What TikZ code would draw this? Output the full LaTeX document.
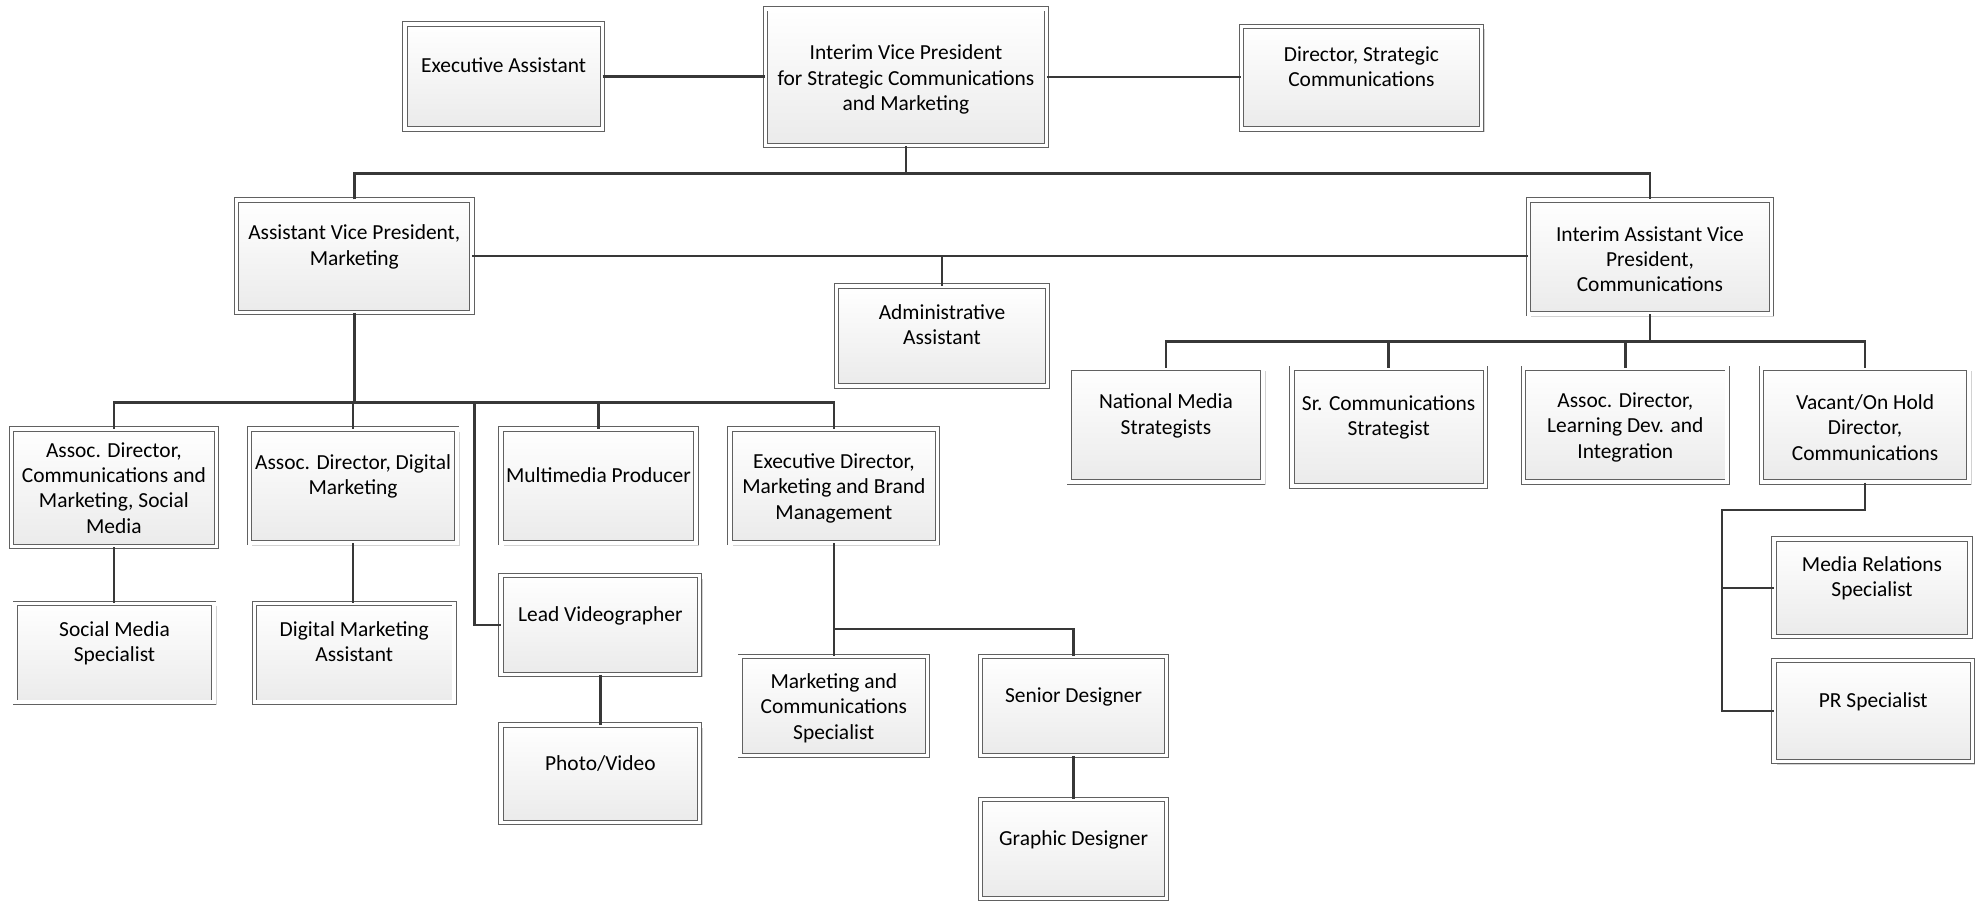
\documentclass[tikz,border=0pt]{standalone}
\usepackage{fontspec}
\setmainfont{Carlito}
\usetikzlibrary{shadows}
\newcommand\pad{\rule{0pt}{14.5pt}}
\newcommand\padlow{\rule{0pt}{11pt}}

\begin{document}
\begin{tikzpicture}[x=0.0253cm,y=-0.0253cm,
  every node/.style={font=\fontsize{12.2}{14.4}\selectfont},
  post/.style={draw=black!62,line width=0.5pt,double=white,double distance=2pt,
    top color=white,bottom color=black!8,align=center,inner sep=2pt,
    drop shadow={shadow xshift=1.6pt,shadow yshift=-1.6pt,fill=black!35,opacity=0.5}},
  dims/.style 2 args={minimum width=(#1-4)*0.0253cm,minimum height=(#2-4)*0.0253cm},
  link/.style={draw=black!78,line width=1.4pt}]
  \useasboundingbox (0,0) rectangle (1568,714.5);

  \node[post,dims={160}{87}] (ea) at (398,60.5) {\pad Executive Assistant\\ \strut};
  \node[post,dims={226}{112}] (vp) at (716,61) {\padlow Interim Vice President\\for Strategic Communications\\and Marketing};
  \node[post,dims={194}{85}] (dsc) at (1076,61.5) {\pad Director, Strategic\\Communications\\ \strut};

  \node[post,dims={190}{93}] (avp) at (280,202.5) {\pad Assistant Vice President,\\Marketing\\ \strut};
  \node[post,dims={196}{94}] (iavp) at (1304,203) {\padlow Interim Assistant Vice\\President,\\Communications};
  \node[post,dims={171}{83}] (aa) at (744.5,265.5) {\pad Administrative\\Assistant\\ \strut};

  \node[post,dims={166}{97}] (adcm) at (90,385.5) {Assoc. Director,\\Communications and\\Marketing, Social\\Media};
  \node[post,dims={168}{94}] (addm) at (279,384) {\pad Assoc. Director, Digital\\Marketing\\ \strut};
  \node[post,dims={158}{94}] (mp) at (473,384) {\pad Multimedia Producer\\ \strut};
  \node[post,dims={168}{94}] (edm) at (659,384) {\padlow Executive Director,\\Marketing and Brand\\Management};

  \node[post,dims={161}{82}] (sms) at (90.5,516) {\pad Social Media\\Specialist\\ \strut};
  \node[post,dims={162}{82}] (dma) at (280,516) {\pad Digital Marketing\\Assistant\\ \strut};
  \node[post,dims={161}{82}] (lv) at (474.5,494) {\pad Lead Videographer\\ \strut};
  \node[post,dims={161}{81}] (pv) at (474.5,611.5) {\pad Photo/Video\\ \strut};
  \node[post,dims={152}{82}] (mcs) at (659,558) {\padlow Marketing and\\Communications\\Specialist};
  \node[post,dims={151}{82}] (sd) at (848.5,558) {\pad Senior Designer\\ \strut};
  \node[post,dims={151}{82}] (gd) at (848.5,671) {\pad Graphic Designer\\ \strut};

  \node[post,dims={157}{94}] (nms) at (921.5,336) {\pad National Media\\Strategists\\ \strut};
  \node[post,dims={157}{97}] (scs) at (1097.5,337.5) {\pad Sr. Communications\\Strategist\\ \strut};
  \node[post,dims={165}{94}] (adl) at (1284.5,336) {\padlow Assoc. Director,\\Learning Dev. and\\Integration};
  \node[post,dims={168}{94}] (vac) at (1474,336) {\padlow Vacant/On Hold\\Director,\\Communications};
  \node[post,dims={159}{81}] (mrs) at (1479.5,464.5) {\pad Media Relations\\Specialist\\ \strut};
  \node[post,dims={161}{84}] (prs) at (1480.5,562) {\pad PR Specialist\\ \strut};

  \coordinate (topbus) at (716,137);
  \coordinate (mbus) at (280,318);
  \coordinate (tap) at (375,318);
  \coordinate (edbus) at (659,497);
  \coordinate (rbus) at (1304,270);
  \coordinate (vtap) at (1361,403);

  \draw[link](ea.east)--(ea.east-|vp.west);
  \draw[link](vp.east)--(vp.east-|dsc.west);
  \draw[link](vp.south)--(topbus);
  \draw[link](avp.north)|-(topbus)-|(iavp.north);
  \draw[link](avp.east)--(avp.east-|iavp.west);
  \draw[link](aa.north)--(aa.north|-avp.east);

  \draw[link](avp.south)--(mbus);
  \draw[link](adcm.north)|-(mbus)-|(edm.north);
  \draw[link](addm.north)--(addm.north|-mbus);
  \draw[link](mp.north)--(mp.north|-mbus);
  \draw[link](tap)|-(lv.west);
  \draw[link](adcm.south)--(adcm.south|-sms.north);
  \draw[link](addm.south)--(addm.south|-dma.north);
  \draw[link](lv.south)--(lv.south|-pv.north);
  \draw[link](edm.south)--(mcs.north);
  \draw[link](edbus)-|(sd.north);
  \draw[link](sd.south)--(gd.north);

  \draw[link](iavp.south)--(rbus);
  \draw[link](nms.north)|-(rbus)-|(vac.north);
  \draw[link](scs.north)--(scs.north|-rbus);
  \draw[link](adl.north)--(adl.north|-rbus);
  \draw[link](vac.south)|-(vtap)|-(prs.west);
  \draw[link](mrs.west)--(mrs.west-|vtap);
  \end{tikzpicture}
\end{document}
